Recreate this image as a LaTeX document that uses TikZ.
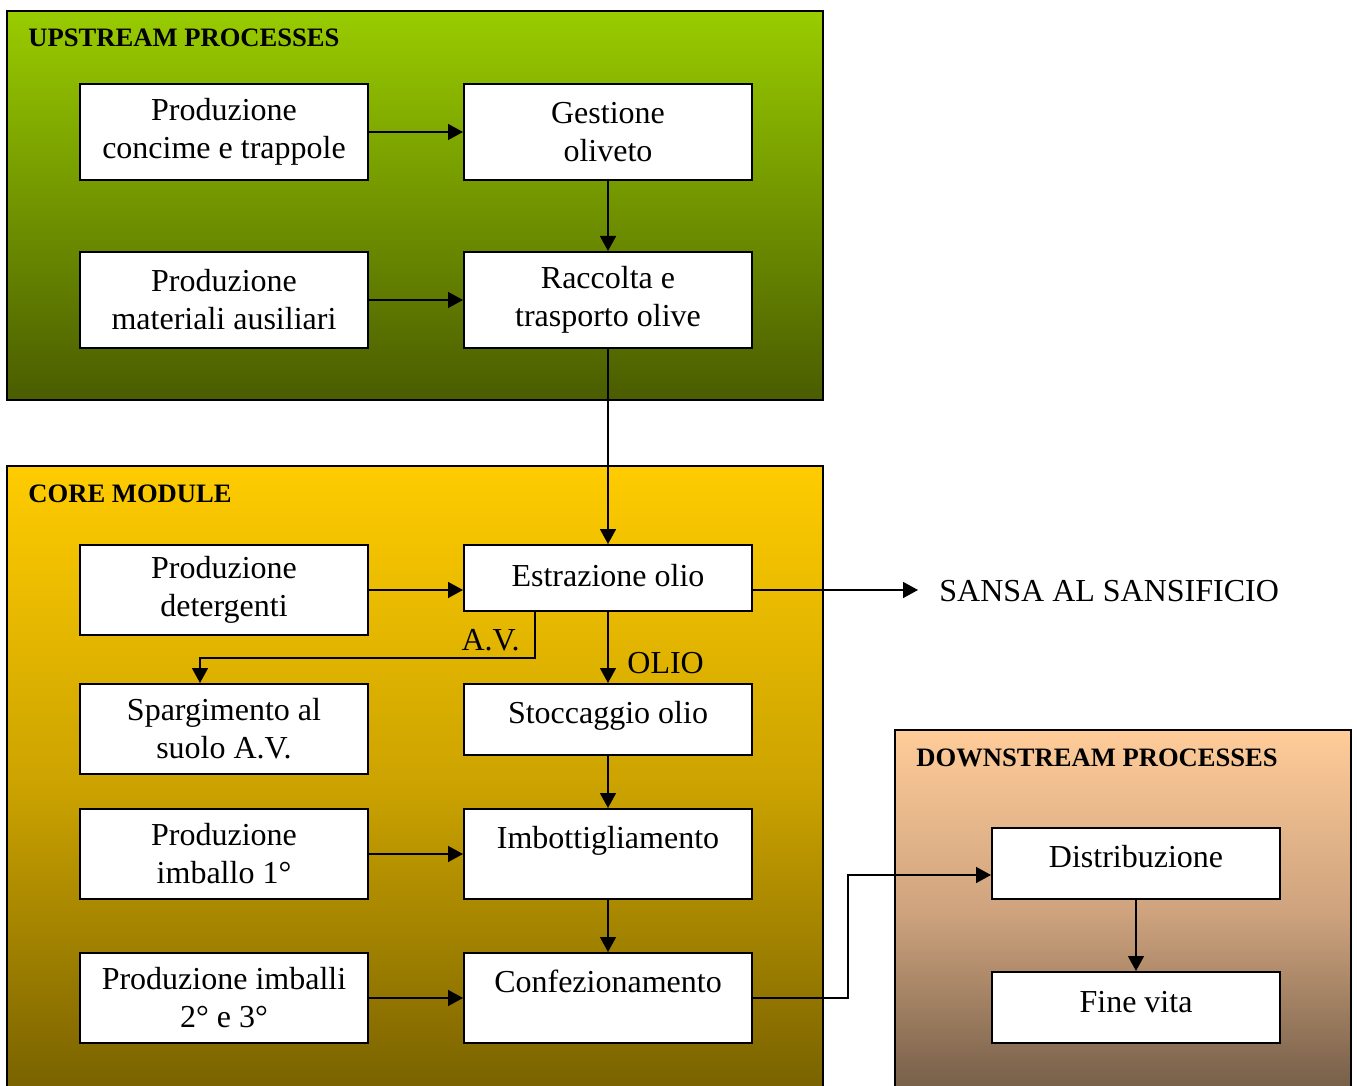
\documentclass[tikz,border=0pt]{standalone}
\usepackage{fontspec}
\setmainfont{Liberation Serif}
\usepackage{tikz}
\usetikzlibrary{arrows.meta}
\definecolor{upTop}{HTML}{99CC00}
\definecolor{upBot}{HTML}{4A5C00}
\definecolor{coreTop}{HTML}{FFCC00}
\definecolor{coreMid}{HTML}{CCA300}
\definecolor{coreBot}{HTML}{766000}
\definecolor{downTop}{HTML}{FFCC99}
\definecolor{downMid}{HTML}{CDA27D}
\definecolor{downBot}{HTML}{705A45}
\tikzstyle{frame}=[draw=black, line width=1pt]
\tikzstyle{box}=[draw=black, fill=white, line width=1pt, anchor=north west, minimum width=144pt, align=center, inner sep=0pt, font=\fontsize{16}{19}\selectfont]
\tikzstyle{conn}=[draw=black, line width=0.8pt, -{Triangle[length=7.5pt,width=8pt]}]
\tikzstyle{head}=[anchor=west, inner sep=0pt, font=\fontsize{13.3}{16}\selectfont\bfseries]
\tikzstyle{lbl}=[inner sep=0pt, font=\fontsize{16}{19}\selectfont]

\begin{document}
\begin{tikzpicture}[x=0.5pt,y=-0.5pt]
\clip (0,0) rectangle (1357,1086);
\fill[white] (0,0) rectangle (1357,1086);
% frames
\draw[frame, top color=upTop, bottom color=upBot] (7,11) rectangle (823,400);
\draw[frame, top color=coreTop, bottom color=coreBot, middle color=coreMid] (7,466) rectangle (823,1100);
\draw[frame, top color=downTop, bottom color=downBot, middle color=downMid] (895,730) rectangle (1351,1100);
\node[head] (hup) at (28,38) {UPSTREAM PROCESSES};
\node[head] (hcore) at (28,494) {CORE MODULE};
\node[head] (hdown) at (916,758) {DOWNSTREAM PROCESSES};
% upstream
\node[box, minimum height=48pt] (pcon) at (79,83) {Produzione\\concime e trappole};
\node[box, minimum height=48pt] (gest) at (463,83) {Gestione\\oliveto};
\node[box, minimum height=48pt] (pmat) at (79,251) {Produzione\\materiali ausiliari};
\node[box, minimum height=48pt] (racc) at (463,251) {Raccolta e\\trasporto olive};
% core
\node[box, minimum height=45pt] (pdet) at (79,544) {Produzione\\detergenti};
\node[box, minimum height=33pt, text depth=3pt] (estr) at (463,544) {Estrazione olio};
\node[box, minimum height=45pt] (sparg) at (79,683) {Spargimento al\\suolo A.V.};
\node[box, minimum height=35.5pt, text depth=7.5pt] (stocc) at (463,683) {Stoccaggio olio};
\node[box, minimum height=45pt] (pimb1) at (79,808) {Produzione\\imballo 1°};
\node[box, minimum height=45pt] (imbott) at (463,808) {Imbottigliamento\\[-8pt]\strut};
\node[box, minimum height=45pt] (pimb23) at (79,952) {Produzione imballi\\2° e 3°};
\node[box, minimum height=45pt] (conf) at (463,952) {Confezionamento\\[-8pt]\strut};
% downstream
\node[box, minimum height=35.5pt, text depth=7pt] (distr) at (991,827) {Distribuzione};
\node[box, minimum height=35.5pt, text depth=6pt] (fine) at (991,971) {Fine vita};
% labels
\node[lbl, anchor=west, inner xsep=10.5pt] (sansa) at (918,591) {SANSA AL SANSIFICIO};
\node[lbl, anchor=west] (olio) at (627,663) {OLIO};
\node[lbl, anchor=east] (av) at (520,640) {A.V.};
\coordinate (avbend) at (535,658);
\coordinate (cbend) at (848,995);
\coordinate (din) at (991,875);
% connectors
\draw[conn] (pcon) -- (gest);
\draw[conn] (gest) -- (racc);
\draw[conn] (pmat) -- (racc);
\draw[conn] (racc) -- (estr);
\draw[conn] (pdet.east) -- (pdet.east -| estr.west);
\draw[conn] (estr.east |- pdet.east) -- (sansa.west |- pdet.east);
\draw[conn] (estr) -- (stocc);
\draw[conn] (estr.south -| avbend) -- (avbend) -| ([xshift=-12pt]sparg.north);
\draw[conn] (stocc) -- (imbott);
\draw[conn] (pimb1) -- (imbott);
\draw[conn] (imbott) -- (conf);
\draw[conn] (pimb23) -- (conf);
\draw[conn] (conf.east) -| (cbend |- din) -- (din);
\draw[conn] (distr) -- (fine);
\end{tikzpicture}
\end{document}
